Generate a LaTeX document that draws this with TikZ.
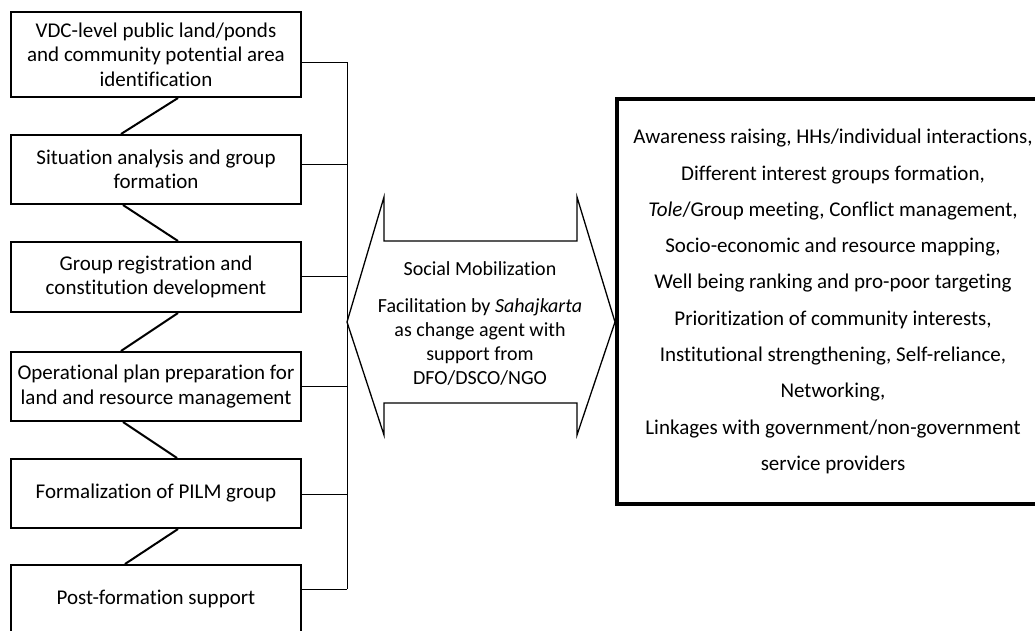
\documentclass[tikz,border=0pt]{standalone}
\usepackage{fontspec}
\setmainfont{Carlito}[Ligatures=NoCommon]
\begin{document}
\begin{tikzpicture}[x=1pt,y=-1pt,
  lbox/.style={draw, line width=2pt, minimum width=290pt, align=center, inner sep=0pt,
    font=\fontsize{21}{24.5}\selectfont},
  zig/.style={line width=2pt},
  brk/.style={line width=1pt},
  arrowshape/.style={draw, line width=1.3pt, line join=miter},
  rbox/.style={draw, line width=4pt, minimum width=432pt, minimum height=405pt, align=center,
    inner sep=0pt, font=\fontsize{21}{36.3}\selectfont},
  atext/.style={align=center, inner sep=0pt, font=\fontsize{20}{24}\selectfont}]
\useasboundingbox (0,0) rectangle (1035,630);

% left boxes
\node[lbox, minimum height=85pt] (b1) at (156,54.5) {VDC-level public land/ponds\\and community potential area\\identification};
\node[lbox, minimum height=69pt] (b2) at (156,169.5) {Situation analysis and group\\formation};
\node[lbox, minimum height=70pt] (b3) at (156,277) {Group registration and\\constitution development};
\node[lbox, minimum height=69pt] (b4) at (156,386.5) {Operational plan preparation for\\land and resource management};
\node[lbox, minimum height=69pt] (b5) at (156,493.5) {Formalization of PILM group};
\node[lbox, minimum height=68pt] (b6) at (156,599) {Post-formation support};

% zigzag connectors
\draw[zig] ([xshift=22pt]b1.south) -- ([xshift=-35pt]b2.north);
\draw[zig] ([xshift=-33pt]b2.south) -- ([xshift=22pt]b3.north);
\draw[zig] ([xshift=22pt]b3.south) -- ([xshift=-35pt]b4.north);
\draw[zig] ([xshift=-33pt]b4.south) -- ([xshift=21pt]b5.north);
\draw[zig] ([xshift=22pt]b5.south) -- ([xshift=-31pt]b6.north);

% bracket
\coordinate (v1) at (347,62);
\coordinate (v2) at (347,164);
\coordinate (v3) at (347,276);
\coordinate (v4) at (347,386);
\coordinate (v5) at (347,494);
\coordinate (v6) at (347,589);
\draw[brk] (v1 -| b1.east) -- (v1);
\draw[brk] (v2 -| b2.east) -- (v2);
\draw[brk] (v3 -| b3.east) -- (v3);
\draw[brk] (v4 -| b4.east) -- (v4);
\draw[brk] (v5 -| b5.east) -- (v5);
\draw[brk] (v6 -| b6.east) -- (v6);
\draw[brk] (v1) -- (v6);

% double arrow
\draw[arrowshape] (347,322) -- (384,197) -- (384,241) -- (577,241) -- (577,197) -- (615,322)
  -- (577,435) -- (577,403) -- (384,403) -- (384,435) -- cycle;
\node[atext] (sm) at (480,269) {Social Mobilization};
\node[atext] (fac) at (480,342) {Facilitation by \textit{Sahajkarta}\\as change agent with\\support from\\DFO/DSCO/NGO};

% right box
\node[rbox] (rb) at (833,301.5) {Awareness raising, HHs/individual interactions,\\
Different interest groups formation,\\
\textit{Tole}/Group meeting, Conflict management,\\
Socio-economic and resource mapping,\\
Well being ranking and pro-poor targeting\\
Prioritization of community interests,\\
Institutional strengthening, Self-reliance,\\
Networking,\\
Linkages with government/non-government\\
service providers};
\end{tikzpicture}
\end{document}
